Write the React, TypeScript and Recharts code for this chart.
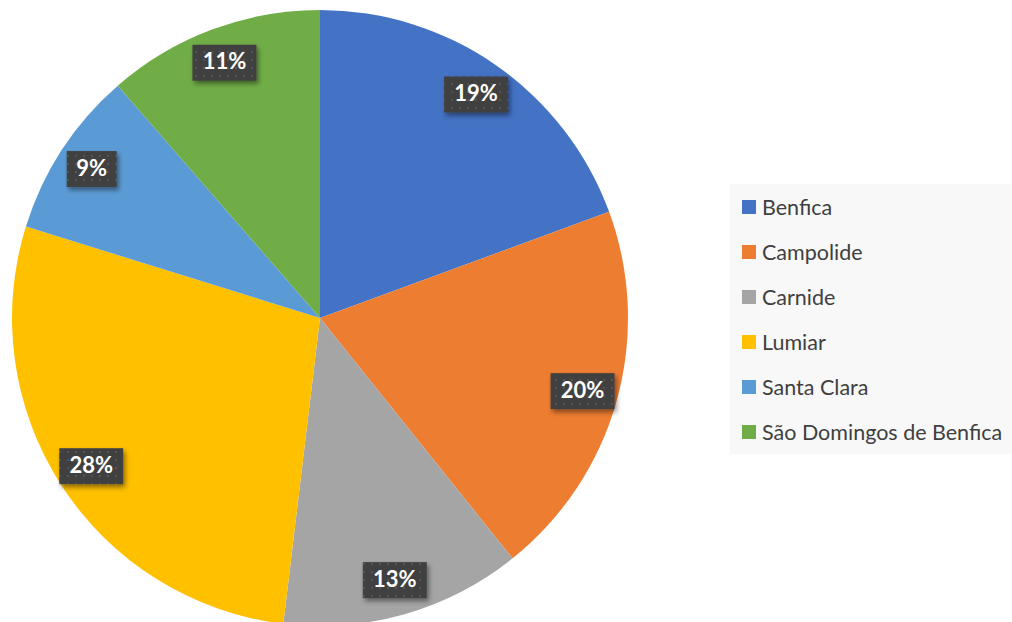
import React from "react";
import { PieChart, Pie, Cell, Legend } from "recharts";

const NAMES = ["Benfica", "Campolide", "Carnide", "Lumiar", "Santa Clara", "São Domingos de Benfica"];
const SHARES = [19.4, 19.85, 12.65, 27.9, 8.8, 11.4];
const COLORS = ["#4472C4", "#ED7D31", "#A5A5A5", "#FFC000", "#5B9BD5", "#70AD47"];

const data = NAMES.map((name, i) => ({ name, value: SHARES[i] }));

const RADIAN = Math.PI / 180;
const FONT = "Lato, 'Open Sans', sans-serif";

function PctLabel(props: any) {
  const { cx, cy, midAngle, outerRadius, percent } = props;
  const r = outerRadius * 0.885;
  const x = cx + r * Math.cos(-midAngle * RADIAN);
  const y = cy + r * Math.sin(-midAngle * RADIAN);
  const text = `${Math.round(percent * 100)}%`;
  const w = text.length > 2 ? 64 : 50;
  const h = 36;
  return (
    <g>
      <rect x={x - w / 2} y={y - h / 2} width={w} height={h} fill="url(#dots)" filter="url(#lblShadow)" />
      <text
        x={x}
        y={y + 1}
        textAnchor="middle"
        dominantBaseline="middle"
        fill="#fff"
        fontFamily={FONT}
        fontWeight={700}
        fontSize={22}
      >
        {text}
      </text>
    </g>
  );
}

function LegendBox({ payload }: any) {
  return (
    <div style={{ background: "#f8f8f8", padding: "0 8px 0 12px", width: 262 }}>
      {(payload || []).map((p: any) => (
        <div key={p.value} style={{ display: "flex", alignItems: "center", height: 45, fontFamily: FONT, fontSize: 21.5, color: "#404040", whiteSpace: "nowrap" }}>
          <span style={{ width: 14, height: 14, background: p.color, marginRight: 6, display: "inline-block", flex: "none" }} />
          {p.value}
        </div>
      ))}
    </div>
  );
}

export default function App() {
  return (
    <div style={{ position: "absolute", left: 0, top: 0, width: 1012, height: 622, background: "#fff", overflow: "hidden" }}>
      <style>{`.recharts-pie-sectors { filter: drop-shadow(0 0 7px rgba(0,0,0,0.28)); }`}</style>
      <svg width={0} height={0} style={{ position: "absolute" }}>
        <defs>
          <pattern id="dots" width={8} height={8} patternUnits="userSpaceOnUse">
            <rect width={8} height={8} fill="#404040" />
            <circle cx={4} cy={4} r={1.2} fill="#525252" />
          </pattern>
          <filter id="lblShadow" x="-30%" y="-30%" width="160%" height="160%">
            <feDropShadow dx={2} dy={3} stdDeviation={2.5} floodColor="#000" floodOpacity={0.45} />
          </filter>
        </defs>
      </svg>
      <PieChart width={1012} height={622} margin={{ top: 0, right: 0, bottom: 0, left: 0 }}>
        <Pie
          data={data}
          dataKey="value"
          nameKey="name"
          cx={320}
          cy={318}
          outerRadius={308}
          startAngle={90}
          endAngle={-270}
          stroke="none"
          labelLine={false}
          label={PctLabel}
          isAnimationActive={false}
        >
          {data.map((d, i) => (
            <Cell key={d.name} fill={COLORS[i]} />
          ))}
        </Pie>
        <Legend
          layout="vertical"
          verticalAlign="middle"
          align="right"
          content={<LegendBox />}
          wrapperStyle={{ right: 0, top: 184 }}
        />
      </PieChart>
    </div>
  );
}
